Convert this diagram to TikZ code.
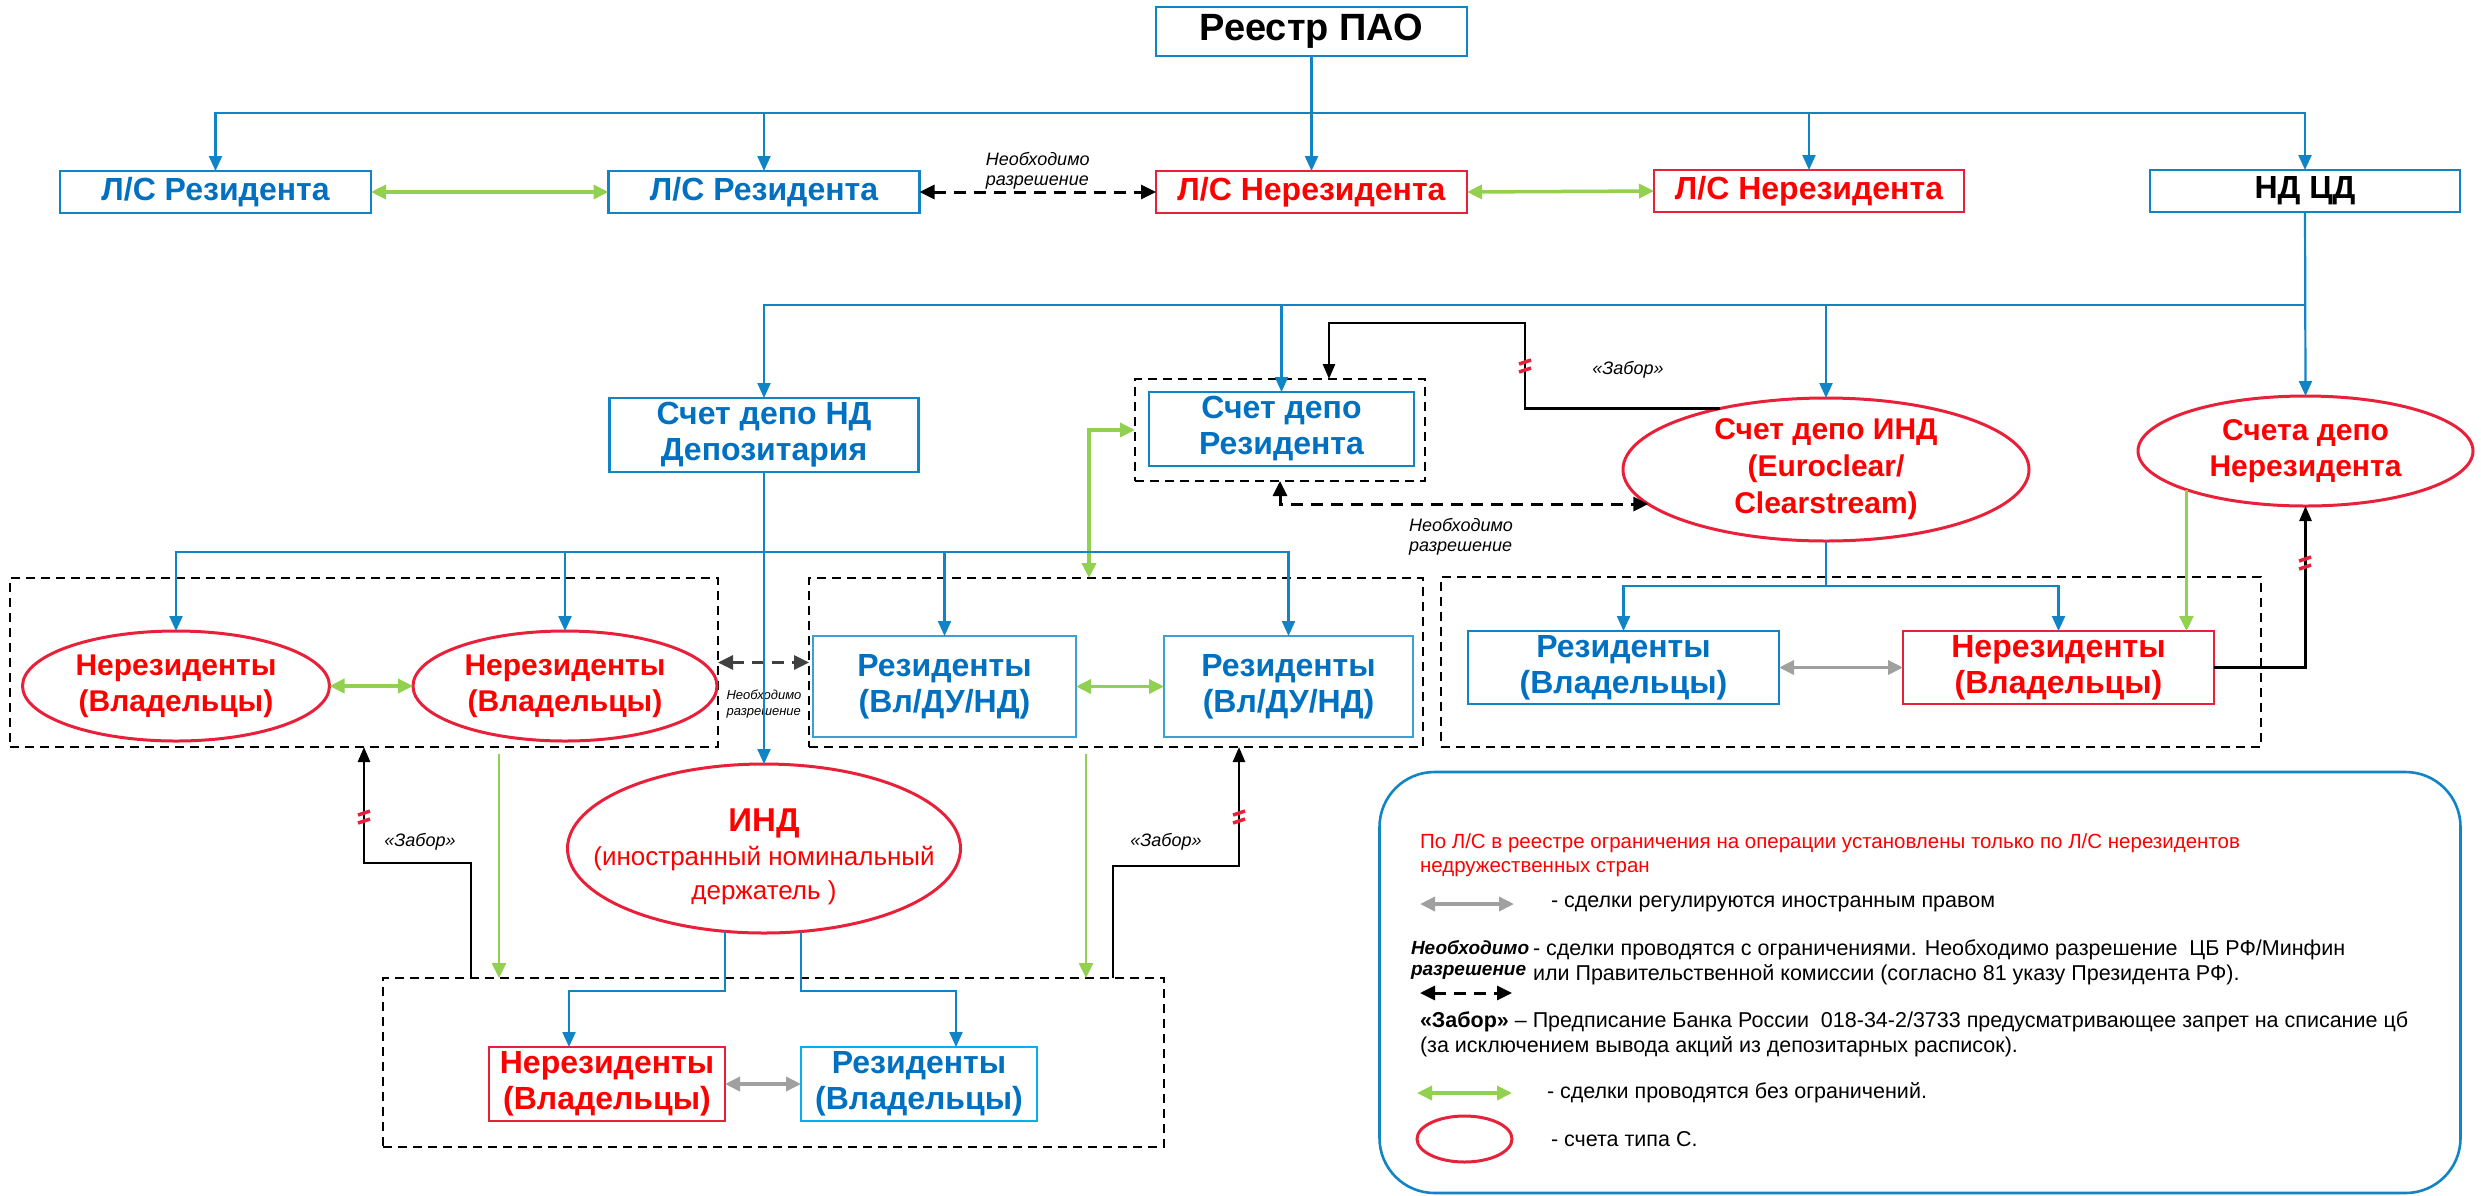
\documentclass[tikz,border=0pt]{standalone}
\usepackage{fontspec}
\setmainfont{Liberation Sans}
\usetikzlibrary{arrows.meta,shapes.geometric}
\definecolor{lnblue}{RGB}{16,132,196}
\definecolor{txblue}{RGB}{0,112,192}
\definecolor{ltblue}{RGB}{60,160,215}
\definecolor{cyanb}{RGB}{0,176,240}
\definecolor{rdline}{RGB}{232,32,58}
\definecolor{rdtext}{RGB}{255,0,0}
\definecolor{grn}{RGB}{146,208,80}
\definecolor{gry}{RGB}{160,160,160}
\definecolor{dgry}{RGB}{64,64,64}
% the little red break on the black lines
\newcommand{\zmark}[1]{\draw[rdline,line width=3.5pt] ([shift={(-6,-2)}]#1) -- ([shift={(6,-6)}]#1) ([shift={(-6,6)}]#1) -- ([shift={(6,2)}]#1);}

\begin{document}
\begin{tikzpicture}[x=1pt,y=-1pt,
	every node/.style={inner sep=0pt,outer sep=0pt},
	box/.style={draw=lnblue,line width=2.6pt,text=txblue,minimum height=42pt,align=center,font=\fontsize{32}{36}\selectfont\bfseries},
	rbox/.style={box,draw=rdline,text=rdtext},
	rell/.style={ellipse,draw=rdline,line width=3pt,text=rdtext,align=center,font=\fontsize{30}{36}\selectfont\bfseries},
	rtxt/.style={text=rdtext,align=center,font=\fontsize{30}{37}\selectfont\bfseries},
	grp/.style={draw,dash pattern=on 9pt off 6pt,line width=2.4pt},
	blline/.style={draw=lnblue,line width=2.2pt},
	blarr/.style={blline,-{Triangle[length=15pt,width=13pt]}},
	grarr/.style={grn,line width=3.5pt,{Triangle[length=15pt,width=14pt]}-{Triangle[length=15pt,width=14pt]}},
	grone/.style={grn,line width=2.6pt,-{Triangle[length=15pt,width=14pt]}},
	gyarr/.style={grarr,gry},
	ndash/.style={line width=3pt,dash pattern=on 12pt off 8pt,{Triangle[length=15pt,width=14pt]}-{Triangle[length=15pt,width=14pt]}},
	zabor/.style={line width=2.6pt,-{Triangle[length=15pt,width=12pt]}},
	lbl/.style={align=left,font=\fontsize{18}{20}\selectfont\itshape},
	lgtxt/.style={anchor=west,align=left,font=\fontsize{21.5}{25}\selectfont}]
	\useasboundingbox (0,0) rectangle (2481,1195);

	% reestr and the L/S accounts
		\node[box,text=black,minimum width=311pt,minimum height=49pt,font=\fontsize{38}{40}\selectfont\bfseries] (reestr) at (1311.5,31.5) {Реестр ПАО};
		\node[box,minimum width=311pt] (lsr1) at (215.5,192) {Л/С Резидента};
		\node[box,minimum width=311pt] (lsr2) at (764,192) {Л/С Резидента};
		\node[rbox,minimum width=311pt] (lsn1) at (1311.5,192) {Л/С Нерезидента};
		\node[rbox,minimum width=310pt] (lsn2) at (1809,191) {Л/С Нерезидента};
		\node[box,text=black,minimum width=310pt] (ndcd) at (2305,191) {НД ЦД};

		\coordinate (b1) at (1311.5,113);
		\draw[blarr] (reestr.south) -- (lsn1.north);
		\foreach \n in {lsr1,lsr2,lsn2,ndcd}
			\draw[blarr] (b1) -| (\n.north);
		\draw[grarr] (lsr1.east) -- (lsr2.west);
		\draw[ndash] (lsr2.east) -- node[lbl,above=3pt] (np1) {Необходимо\\разрешение} (lsn1.west);
		\draw[grarr] (lsn1.east) -- (lsn2.west);

	% depo accounts under ND CD
		\node[box,minimum width=309pt,minimum height=74pt] (sdnd) at (764,435) {Счет депо НД\\Депозитария};
		\node[grp,minimum width=290pt,minimum height=102pt] (sdrf) at (1280,430) {};
		\node[box,minimum width=265pt,minimum height=74pt] (sdr) at (1281.5,429) {Счет депо\\Резидента};
		\node[rell,minimum width=406pt,minimum height=143pt] (sdind) at (1826,469.5) {};
		\node[rtxt] (sdindt) at (sdind.center) {Счет депо ИНД\\(Euroclear/\\Clearstream)};
		\node[rell,minimum width=335pt,minimum height=110pt] (sdnr) at (2305.5,451) {Счета депо\\Нерезидента};

		\coordinate (b2) at (2305,305);
		\draw[blarr] (ndcd.south) -- (sdnr.north);
		\foreach \n in {sdnd,sdr,sdind}
			\draw[blarr] (b2) -| (\n.north);

		\coordinate (z1) at (1525,323);
		\draw[zabor] (sdind.150) -| (z1) -| ([xshift=49pt]sdrf.north);
		\zmark{1525,366}
		\node[lbl] (zb1) at (1628,370) {«Забор»};
		\draw[ndash] (sdrf.south) |- (sdind.191);
		\node[lbl] (np2) at (1461,537) {Необходимо\\разрешение};

	% the three dashed groups
		\node[grp,minimum width=708pt,minimum height=169pt] (g1) at (364,662.5) {};
		\node[grp,minimum width=614pt,minimum height=169pt] (g2) at (1116,662.5) {};
		\node[grp,minimum width=820pt,minimum height=170pt] (g3) at (1851,662) {};
		\draw[grarr] (sdrf.west) -| ([xshift=-27pt]g2.north);

		\node[rell,minimum width=307pt,minimum height=110pt] (n1) at (176,686) {Нерезиденты\\(Владельцы)};
		\node[rell,minimum width=304pt,minimum height=110pt] (n2) at (565,686) {Нерезиденты\\(Владельцы)};
		\node[box,draw=ltblue,minimum width=263pt,minimum height=101pt] (ra) at (944.5,686.5) {Резиденты\\(Вл/ДУ/НД)};
		\node[box,draw=ltblue,minimum width=249pt,minimum height=101pt] (rb) at (1288.5,686.5) {Резиденты\\(Вл/ДУ/НД)};
		\node[box,minimum width=311pt,minimum height=73pt] (rv) at (1623.5,667.5) {Резиденты\\(Владельцы)};
		\node[rbox,minimum width=311pt,minimum height=73pt] (nv) at (2058.5,667.5) {Нерезиденты\\(Владельцы)};

		\coordinate (b3) at (764,552);
		\foreach \n in {n1,n2,ra,rb}
			\draw[blarr] (b3) -| (\n.north);
		\draw[grarr] (n1.east) -- (n2.west);
		\draw[grarr] (ra.east) -- (rb.west);
		\draw[ndash,dgry] (g1.east) -- (g2.west);
		\node[lbl,font=\fontsize{13}{16}\selectfont\itshape] (np3) at (764,704) {Необходимо\\разрешение};

		\coordinate (b4) at (1826,586);
		\draw[blline] (sdind.south) -- (b4);
		\foreach \n in {rv,nv}
			\draw[blarr] (b4) -| (\n.north);
		\draw[gyarr] (rv.east) -- (nv.west);
		\draw[grone] (sdnr.198) -- (sdnr.198 |- nv.north);
		\draw[zabor] (nv.east) -| (sdnr.south);
		\zmark{2305,563}

	% IND and the bottom group
		\node[rell,minimum width=393pt,minimum height=169pt] (ind) at (764,848.5) {};
		\node[text=rdtext,align=center,font=\fontsize{26}{34}\selectfont] (indt) at (764,857) {{\fontsize{33}{34}\selectfont\bfseries ИНД}\\(иностранный номинальный\\держатель )};
		\draw[blarr] (sdnd.south) -- (ind.north);

		\node[grp,minimum width=781pt,minimum height=169pt] (g4) at (773.5,1062.5) {};
		\node[rbox,minimum width=236pt,minimum height=74pt] (nb) at (607,1084) {Нерезиденты\\(Владельцы)};
		\node[box,draw=cyanb,minimum width=236pt,minimum height=74pt] (rbx) at (919,1084) {Резиденты\\(Владельцы)};

		\coordinate (bi) at (764,991);
		\draw[blarr] (ind.245) -- (ind.245 |- bi) -| ([xshift=-38pt]nb.north);
		\draw[blarr] (ind.294) -- (ind.294 |- bi) -| ([xshift=37pt]rbx.north);
		\draw[gyarr] (nb.east) -- (rbx.west);

		\coordinate (gl) at (499,754);
		\coordinate (gr) at (1086,754);
		\draw[grone] (gl) -- (gl |- g4.north);
		\draw[grone] (gr) -- (gr |- g4.north);

		\coordinate (zl) at (471,863);
		\coordinate (zr) at (1113,866);
		\draw[zabor] (zl |- g4.north) -- (zl) -| (g1.south);
		\draw[zabor] (zr |- g4.north) -- (zr) -| ([xshift=123pt]g2.south);
		\zmark{364,817}
		\zmark{1239,817}
		\node[lbl] (zb2) at (420,842) {«Забор»};
		\node[lbl] (zb3) at (1166,842) {«Забор»};

	% legend
		\node[draw=lnblue,line width=2.6pt,rounded corners=55pt,minimum width=1081pt,minimum height=421pt] (lgd) at (1920,982.5) {};
		\node[lgtxt,text=rdtext,font=\fontsize{20.5}{24}\selectfont] (k0) at (1420,855) {По Л/С в реестре ограничения на операции установлены только по Л/С нерезидентов\\недружественных стран};

		\coordinate (k1a) at (1420,904);
		\coordinate (k1b) at (1514,904);
		\draw[gyarr] (k1a) -- (k1b);
		\node[lgtxt] (k1) at (1551,904) {- сделки регулируются иностранным правом};

		\node[lgtxt,font=\fontsize{19}{21}\selectfont\bfseries\itshape] (k2t) at (1411,960) {Необходимо\\разрешение};
		\node[lgtxt] (k2) at (1533,962) {- сделки проводятся с ограничениями. Необходимо разрешение\ \ ЦБ РФ/Минфин\\или Правительственной комиссии (согласно 81 указу Президента РФ).};
		\coordinate (k2a) at (1420,993);
		\coordinate (k2b) at (1512,993);
		\draw[ndash] (k2a) -- (k2b);

		\node[lgtxt] (k3) at (1420,1034) {\textbf{«Забор»} – Предписание Банка России\ \ 018-34-2/3733 предусматривающее запрет на списание цб\\(за исключением вывода акций из депозитарных расписок).};

		\coordinate (k4a) at (1417,1093);
		\coordinate (k4b) at (1512,1093);
		\draw[grarr] (k4a) -- (k4b);
		\node[lgtxt] (k4) at (1547,1093) {- сделки проводятся без ограничений.};

		\node[rell,minimum width=95pt,minimum height=46pt] (k5e) at (1464.5,1139) {};
		\node[lgtxt] (k5) at (1551,1139) {- счета типа С.};
\end{tikzpicture}
\end{document}
